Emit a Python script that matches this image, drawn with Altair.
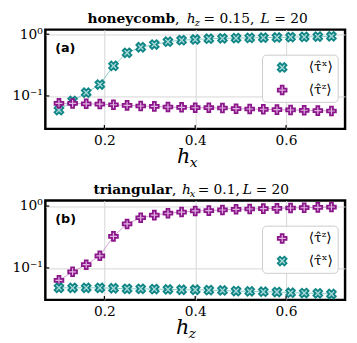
import altair as alt
import pandas as pd

# ---- data ----
h_vals = [0.10, 0.13, 0.16, 0.19, 0.22, 0.25, 0.28, 0.31, 0.34, 0.37, 0.40,
          0.43, 0.46, 0.49, 0.52, 0.55, 0.58, 0.61, 0.64, 0.67, 0.70]

# panel (a) honeycomb, x axis h_x
a_tau_x = [0.059, 0.083, 0.113, 0.153, 0.307, 0.50, 0.615, 0.68, 0.757, 0.80, 0.822,
           0.845, 0.855, 0.864, 0.872, 0.879, 0.886, 0.896, 0.905, 0.915, 0.925]
a_tau_z = [0.076, 0.0757, 0.0745, 0.0738, 0.072, 0.0704, 0.0687, 0.0678, 0.0662, 0.0654, 0.0645,
           0.0645, 0.0638, 0.0622, 0.0615, 0.0608, 0.060, 0.0593, 0.0586, 0.0578, 0.0571]

# panel (b) triangular, x axis h_z
b_tau_z = [0.063, 0.0865, 0.113, 0.157, 0.324, 0.514, 0.647, 0.713, 0.766, 0.80, 0.834,
           0.844, 0.865, 0.886, 0.897, 0.908, 0.918, 0.93, 0.94, 0.952, 0.964]
b_tau_x = [0.0477, 0.0477, 0.0477, 0.0477, 0.047, 0.046, 0.046, 0.0455, 0.045, 0.0444, 0.0444,
           0.0438, 0.0433, 0.0423, 0.0418, 0.0413, 0.0408, 0.0398, 0.0393, 0.0388, 0.0379]

x_ticks = [0.2, 0.4, 0.6]
y_ticks = [0.1, 1.0]

LAB_X = "⟨τ̂ˣ⟩"
LAB_Z = "⟨τ̂ᶻ⟩"

# ---- styling ----
PLUS = ("M-0.333,-1L0.333,-1L0.333,-0.333L1,-0.333L1,0.333L0.333,0.333L0.333,1"
        "L-0.333,1L-0.333,0.333L-1,0.333L-1,-0.333L-0.333,-0.333Z")
XSHP = ("M0.5,-1L1,-0.5L0.5,0L1,0.5L0.5,1L0,0.5L-0.5,1L-1,0.5L-0.5,0L-1,-0.5"
        "L-0.5,-1L0,-0.5Z")
SHAPE = {LAB_X: XSHP, LAB_Z: PLUS}
STROKE = {LAB_X: "#0f8585", LAB_Z: "#8a168a"}
FILL = {LAB_X: "#a8d8d8", LAB_Z: "#e3b3e3"}
LINE = {LAB_X: "#6fbdbd", LAB_Z: "#c78ac7"}

W, H = 305, 101
SERIF = "DejaVu Serif"
MSIZE = 80


def txt(s, x, y, size, weight="normal", style="normal", font=SERIF, align="left",
        baseline="alphabetic"):
    return alt.Chart(alt.Data(values=[{"t": s}])).mark_text(
        align=align, baseline=baseline, fontSize=size, fontWeight=weight,
        fontStyle=style, font=font, color="black"
    ).encode(x=alt.value(x), y=alt.value(y), text="t:N")


def legend_layers(order):
    out = [alt.Chart(alt.Data(values=[{}])).mark_rect(
        fill="white", fillOpacity=0.85, stroke="#cccccc", strokeWidth=1, cornerRadius=4
    ).encode(x=alt.value(221), x2=alt.value(298), y=alt.value(26), y2=alt.value(74))]
    for i, name in enumerate(order):
        yy = 38.5 + 23 * i
        out.append(alt.Chart(alt.Data(values=[{"s": name}])).mark_point(
            shape=SHAPE[name], filled=True, fill=FILL[name], stroke=STROKE[name],
            strokeWidth=1.8, size=MSIZE, opacity=1
        ).encode(x=alt.value(241), y=alt.value(yy)))
        out.append(txt(name, 268, yy, 14, baseline="middle"))
    return out


def panel(series, order, ydom, title_parts, xvar_sub, xvar_pos, letter):
    rows = []
    for name, vals in series:
        for h, v in zip(h_vals, vals):
            rows.append({"h": h, "v": v, "s": name})
    df = pd.DataFrame(rows)

    xenc = alt.X("h:Q", scale=alt.Scale(domain=[0.07, 0.73], nice=False, zero=False),
                 axis=alt.Axis(values=x_ticks, format=".1f", title=None, grid=True,
                               ticks=False, domain=False, labelFont=SERIF,
                               labelFontSize=14, labelColor="black", labelPadding=5,
                               gridColor="#d6d6d6", gridWidth=1))
    yenc = alt.Y("v:Q", scale=alt.Scale(type="log", domain=ydom, nice=False),
                 axis=alt.Axis(values=y_ticks, title=None, grid=True, ticks=False,
                               domain=False, labelFont=SERIF, labelFontSize=14,
                               labelColor="black", labelPadding=3,
                               labelExpr="datum.value >= 1 ? '10⁰' : '10⁻¹'",
                               gridColor="#d6d6d6", gridWidth=1))

    lines = alt.Chart(df).mark_line(strokeWidth=1, opacity=0.8).encode(
        x=xenc, y=yenc,
        color=alt.Color("s:N", scale=alt.Scale(domain=order, range=[LINE[o] for o in order]),
                        legend=None),
        detail="s:N")

    pts = alt.Chart(df).mark_point(filled=True, size=MSIZE, strokeWidth=1.8, opacity=1).encode(
        x=xenc, y=yenc,
        shape=alt.Shape("s:N", scale=alt.Scale(domain=order, range=[SHAPE[o] for o in order]),
                        legend=None),
        fill=alt.Fill("s:N", scale=alt.Scale(domain=order, range=[FILL[o] for o in order]),
                      legend=None),
        stroke=alt.Stroke("s:N", scale=alt.Scale(domain=order, range=[STROKE[o] for o in order]),
                          legend=None),
    )

    xt = alt.Chart(pd.DataFrame({"h": x_ticks})).mark_rule(color="black", strokeWidth=1.2).encode(
        x="h:Q", y=alt.value(H), y2=alt.value(H - 4))
    yt = alt.Chart(pd.DataFrame({"v": y_ticks})).mark_rule(color="black", strokeWidth=1.2).encode(
        y="v:Q", x=alt.value(0), x2=alt.value(4))

    layers = [lines, pts, xt, yt]
    layers += legend_layers(order)
    layers.append(txt(letter, 10, 18.5, 13, weight="bold", font="DejaVu Sans",
                      baseline="middle"))
    for p in title_parts:
        layers.append(txt(*p))
    layers.append(txt("h", xvar_pos, 136, 21, style="italic"))
    layers.append(txt(xvar_sub, xvar_pos + 13, 140, 14, style="italic"))

    return alt.layer(*layers).properties(width=W, height=H)


title_a = [
    ("honeycomb", 132, -6.5, 14, "bold", "normal", SERIF, "right"),
    (",", 132, -6.5, 14),
    ("h", 144, -6.5, 14, "normal", "italic"),
    ("z", 152, -3.5, 10, "normal", "italic"),
    ("= 0.15,", 161, -6.5, 14),
    ("L", 219, -6.5, 14, "normal", "italic"),
    ("= 20", 233, -6.5, 14),
]
title_b = [
    ("triangular", 129, -6.5, 14, "bold", "normal", SERIF, "right"),
    (",", 129, -6.5, 14),
    ("h", 139, -6.5, 14, "normal", "italic"),
    ("x", 147, -3.5, 10, "normal", "italic"),
    ("= 0.1,", 155, -6.5, 14),
    ("L", 201, -6.5, 14, "normal", "italic"),
    ("= 20", 214, -6.5, 14),
]

pa = panel([(LAB_X, a_tau_x), (LAB_Z, a_tau_z)], [LAB_X, LAB_Z], [0.0293, 1.187],
           title_a, "x", 134, "(a)")
pb = panel([(LAB_Z, b_tau_z), (LAB_X, b_tau_x)], [LAB_Z, LAB_X], [0.0305, 1.225],
           title_b, "z", 133, "(b)")

chart = alt.vconcat(pa, pb, spacing=73, bounds="flush").resolve_scale(
    x="independent", y="independent", shape="independent", fill="independent",
    stroke="independent", color="independent"
).properties(
    padding={"left": 2, "top": 0, "right": 2, "bottom": 2}
).configure_view(stroke="black", strokeWidth=2.5)

chart.save("out.html", embed_options={"renderer": "svg", "actions": False})
